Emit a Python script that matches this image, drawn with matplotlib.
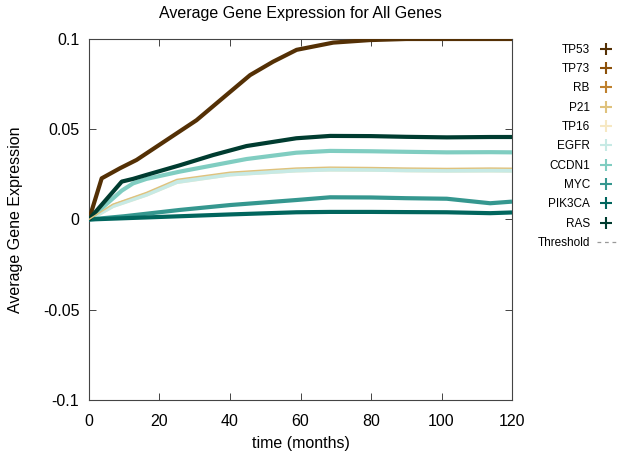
import numpy as np
import matplotlib
matplotlib.use("Agg")
import matplotlib.pyplot as plt
from matplotlib.lines import Line2D

plt.rcParams['font.family'] = ['Liberation Sans', 'DejaVu Sans']
plt.rcParams['axes.unicode_minus'] = False

genes = ["TP53", "TP73", "RB", "P21", "TP16", "EGFR", "CCDN1", "MYC", "PIK3CA", "RAS"]
colors = ["#543005", "#8c510a", "#bf812d", "#dfc27d", "#f6e8c3",
          "#c7eae5", "#80cdc1", "#35978f", "#01665e", "#003c30"]
widths = [3.0, 1.0, 1.0, 1.0, 3.0, 3.0, 3.0, 3.0, 3.0, 3.0]

# time points (months) and averaged expression per gene
t_tp53 = [0, 3.6, 8.8, 13.5, 22, 30.5, 39, 45.7, 52.2, 58.9, 69.3, 79.7, 90, 100, 110, 120]
v_tp53 = [0, 0.0228, 0.0284, 0.033, 0.044, 0.055, 0.069, 0.080, 0.0874, 0.094, 0.098, 0.0994, 0.1, 0.1, 0.1, 0.1]

t_low = [0, 10, 25.8, 40, 58.9, 68.4, 80, 90, 101.5, 113.8, 120]
v_tp73 = [0, 0.0007, 0.0017, 0.0027, 0.0039, 0.0041, 0.0041, 0.0040, 0.0039, 0.0035, 0.0038]
v_rb = [0, 0.0007, 0.0018, 0.0028, 0.0040, 0.0042, 0.0042, 0.0041, 0.0040, 0.0035, 0.0039]
v_myc = [0, 0.0018, 0.0053, 0.0080, 0.0108, 0.0123, 0.0122, 0.0118, 0.0115, 0.0090, 0.0099]
v_pik3ca = [0, 0.0007, 0.0018, 0.0028, 0.0040, 0.0042, 0.0042, 0.0041, 0.0040, 0.0035, 0.0039]

t_mid = [0, 6.8, 16.3, 24.9, 40, 58.8, 68.4, 80, 90, 101.5, 113.8, 120]
v_p21 = [0, 0.0085, 0.015, 0.0222, 0.0262, 0.0285, 0.029, 0.0288, 0.0285, 0.0283, 0.0285, 0.0284]
v_tp16 = [0, 0.0075, 0.0138, 0.0208, 0.025, 0.0272, 0.0277, 0.0276, 0.0273, 0.0271, 0.0272, 0.0271]
v_egfr = [0, 0.0075, 0.0138, 0.0208, 0.025, 0.0272, 0.0277, 0.0276, 0.0273, 0.0271, 0.0272, 0.0271]

t_up = [0, 9.3, 12.5, 16.3, 25.7, 35.2, 44.7, 58.8, 68.4, 80, 90, 101.5, 113.8, 120]
v_ccdn1 = [0, 0.016, 0.020, 0.0225, 0.0265, 0.030, 0.0335, 0.037, 0.038, 0.0378, 0.0375, 0.0372, 0.0373, 0.0372]
v_ras = [0, 0.021, 0.0225, 0.0247, 0.030, 0.0357, 0.0407, 0.045, 0.0463, 0.0462, 0.0458, 0.0455, 0.0457, 0.0457]

series = {
    "TP53": (t_tp53, v_tp53),
    "TP73": (t_low, v_tp73),
    "RB": (t_low, v_rb),
    "P21": (t_mid, v_p21),
    "TP16": (t_mid, v_tp16),
    "EGFR": (t_mid, v_egfr),
    "CCDN1": (t_up, v_ccdn1),
    "MYC": (t_low, v_myc),
    "PIK3CA": (t_low, v_pik3ca),
    "RAS": (t_up, v_ras),
}
zorders = {"P21": 20}

fig = plt.figure(figsize=(6.18, 4.55), dpi=100)
ax = fig.add_axes([0.144, 0.1209, 0.6845, 0.7934])

for g, c, lw in zip(genes, colors, widths):
    t, v = series[g]
    ax.plot(t, v, color=c, lw=lw, solid_capstyle='butt', zorder=zorders.get(g, 10))

ax.set_xlim(0, 120)
ax.set_ylim(-0.1, 0.1)
ax.set_xticks([0, 20, 40, 60, 80, 100, 120])
ax.set_yticks([-0.1, -0.05, 0, 0.05, 0.1])
ax.set_yticklabels(["-0.1", "-0.05", "0", "0.05", "0.1"])
ax.tick_params(direction='in', top=True, right=True, length=5, width=0.7,
               color='#444444', labelsize=11.5)
ax.tick_params(axis='x', pad=10)
ax.tick_params(axis='y', pad=7)
for s in ax.spines.values():
    s.set_color('#444444')
    s.set_linewidth(0.8)

ax.set_title("Average Gene Expression for All Genes", fontsize=11.5, pad=15)
ax.set_xlabel("time (months)", fontsize=11.5, labelpad=5)
ax.set_ylabel("Average Gene Expression", fontsize=11.5, labelpad=14)

handles = [Line2D([], [], color=c, marker='+', ls='none', markersize=9, mew=1.5)
           for c in colors]
handles.append(Line2D([], [], color='#999999', ls=(0, (3, 3)), lw=0.9))
labels = genes + ["Threshold"]
fig.legend(handles, labels, loc='upper left', bbox_to_anchor=(0.862, 0.914),
           frameon=False, markerfirst=False, fontsize=8.5, handlelength=1.6,
           handletextpad=0.6, labelspacing=0.62, borderaxespad=0)

fig.savefig("out.png", dpi=100)
